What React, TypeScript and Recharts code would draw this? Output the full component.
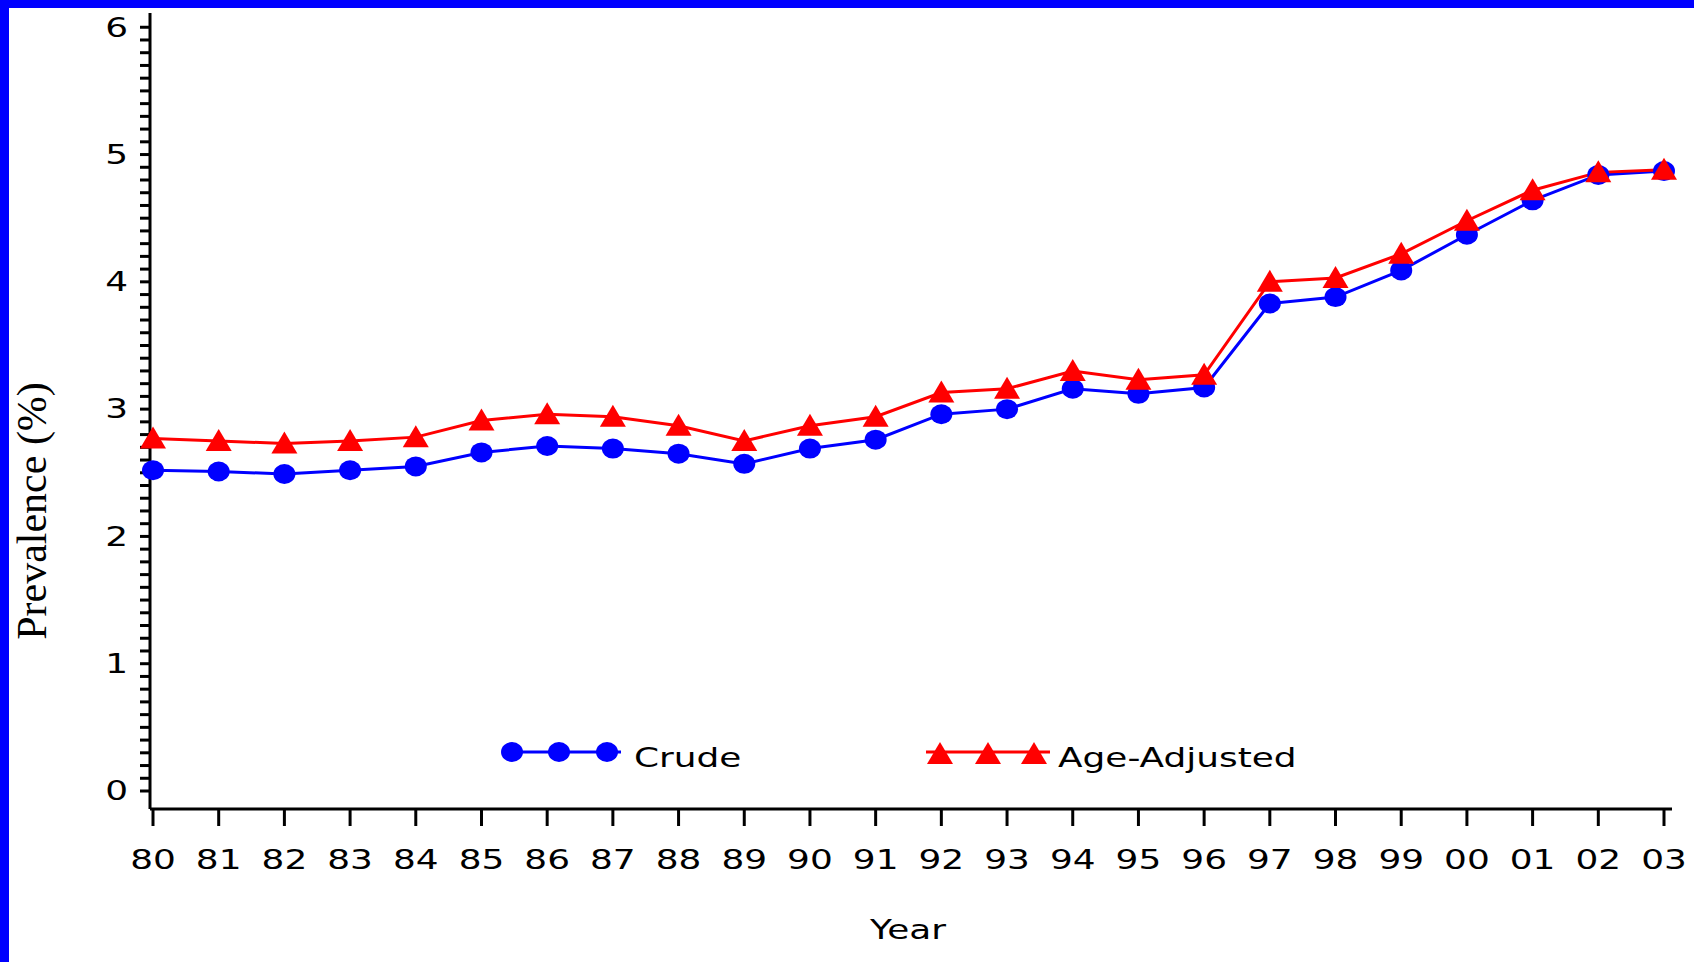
import { LineChart, Line, XAxis, YAxis } from 'recharts';

const years = ['80', '81', '82', '83', '84', '85', '86', '87', '88', '89', '90', '91',
  '92', '93', '94', '95', '96', '97', '98', '99', '00', '01', '02', '03'];

const crude = [2.52, 2.51, 2.49, 2.52, 2.55, 2.66, 2.71, 2.69, 2.65, 2.57, 2.69, 2.76,
  2.96, 3.0, 3.16, 3.12, 3.17, 3.83, 3.88, 4.09, 4.37, 4.64, 4.84, 4.87];

const ageAdjusted = [2.77, 2.75, 2.73, 2.75, 2.78, 2.91, 2.96, 2.94, 2.87, 2.75, 2.87, 2.94,
  3.13, 3.16, 3.3, 3.23, 3.27, 4.0, 4.03, 4.22, 4.48, 4.72, 4.86, 4.88];

const yMajor = [0, 1, 2, 3, 4, 5, 6];
// minor ticks every 0.1 between the labelled ones
const yTicks = yMajor.slice(0, -1).flatMap((v) => [0, 1, 2, 3, 4, 5, 6, 7, 8, 9].map((k) => +(v + k / 10).toFixed(1))).concat([6]);

const data = years.map((year, i) => ({ year, crude: crude[i], adjusted: ageAdjusted[i] }));

const BLUE = '#0000FF';
const RED = '#FF0000';
const FONT = '"DejaVu Sans", sans-serif';
const SX = 1.33;

const PixelText = ({ x, y, anchor = 'middle', children }: any) => (
  <text
    transform={`translate(${x},${y}) scale(${SX},1)`}
    textAnchor={anchor}
    dominantBaseline="central"
    fontFamily={FONT}
    fontSize={27}
    fill="#000"
  >
    {children}
  </text>
);

const XTick = ({ x, y, payload }: any) => (
  <PixelText x={x} y={y + 34}>{payload.value}</PixelText>
);

const YTick = ({ x, y, payload }: any) => {
  const v = payload.value;
  if (Math.abs(v - Math.round(v)) > 1e-6) return <g />;
  return <PixelText x={x} y={y} anchor="end">{Math.round(v)}</PixelText>;
};

const Circle = ({ cx, cy }: any) => (
  <ellipse cx={cx} cy={cy} rx={11} ry={10} fill={BLUE} />
);

const Triangle = ({ cx, cy }: any) => (
  <polygon points={`${cx},${cy - 12} ${cx - 13},${cy + 10} ${cx + 13},${cy + 10}`} fill={RED} />
);

const Overlay = () => (
  <svg width={1694} height={962} style={{ position: 'absolute', left: 0, top: 0, pointerEvents: 'none' }}>
    <text
      transform="translate(46,511) rotate(-90)"
      textAnchor="middle"
      fontFamily='"Liberation Serif", serif'
      fontSize={42}
      fill="#000"
    >
      Prevalence (%)
    </text>
    <PixelText x={908} y={930}>Year</PixelText>

    <line x1={502} y1={752} x2={621} y2={752} stroke={BLUE} strokeWidth={3} />
    {[512, 559, 607].map((cx) => <Circle key={cx} cx={cx} cy={752} />)}
    <PixelText x={634} y={758} anchor="start">Crude</PixelText>

    <line x1={926} y1={752} x2={1050} y2={752} stroke={RED} strokeWidth={3} />
    {[940, 988, 1034].map((cx) => <Triangle key={cx} cx={cx} cy={754} />)}
    <PixelText x={1058} y={758} anchor="start">Age-Adjusted</PixelText>
  </svg>
);

export default function App() {
  return (
    <div style={{ position: 'absolute', left: 0, top: 0, width: 1694, height: 962, background: '#fff' }}>
      <div style={{ position: 'absolute', left: 0, top: 0, width: 1694, height: 8, background: BLUE }} />
      <div style={{ position: 'absolute', left: 0, top: 0, width: 9, height: 962, background: BLUE }} />
      <div style={{ position: 'absolute', left: 0, top: 0 }}>
        <LineChart width={1694} height={962} data={data} margin={{ top: 13, right: 22, left: 0, bottom: 0 }}>
          <XAxis
            dataKey="year"
            height={153}
            interval={0}
            padding={{ left: 3, right: 8 }}
            tick={<XTick />}
            tickSize={17}
            tickMargin={0}
            tickLine={{ stroke: '#000', strokeWidth: 3 }}
            axisLine={{ stroke: '#000', strokeWidth: 3 }}
          />
          <XAxis
            xAxisId="top"
            orientation="top"
            dataKey="year"
            height={0}
            tick={false}
            tickLine={false}
            axisLine={{ stroke: '#000', strokeWidth: 3 }}
          />
          <YAxis
            width={150}
            domain={[-0.1414, 6.112]}
            ticks={yTicks}
            interval={0}
            type="number"
            allowDataOverflow
            tick={<YTick />}
            tickSize={10}
            tickMargin={12}
            tickLine={{ stroke: '#000', strokeWidth: 3 }}
            axisLine={{ stroke: '#000', strokeWidth: 3 }}
          />
          <YAxis
            yAxisId="right"
            orientation="right"
            width={0}
            domain={[0, 1]}
            tick={false}
            tickLine={false}
            axisLine={{ stroke: '#000', strokeWidth: 4 }}
          />
          <Line
            dataKey="crude"
            stroke={BLUE}
            strokeWidth={3}
            dot={<Circle />}
            activeDot={false}
            isAnimationActive={false}
          />
          <Line
            dataKey="adjusted"
            stroke={RED}
            strokeWidth={3}
            dot={<Triangle />}
            activeDot={false}
            isAnimationActive={false}
          />
        </LineChart>
      </div>
      <Overlay />
    </div>
  );
}
